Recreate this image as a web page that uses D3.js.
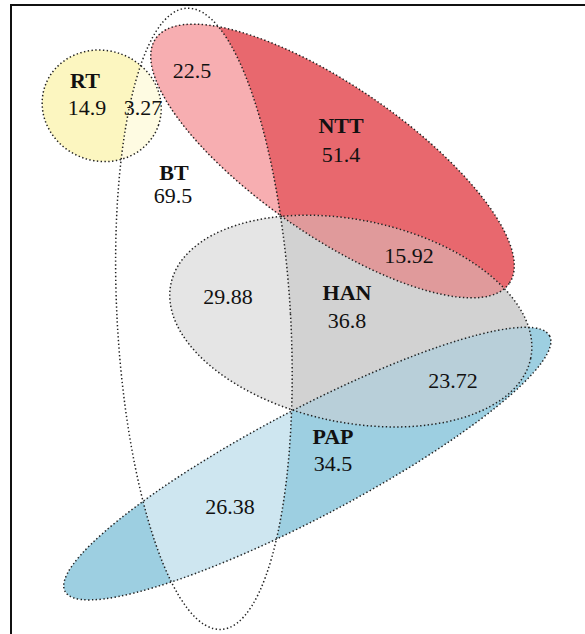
<!DOCTYPE html>
<html><head><meta charset="utf-8">
<script src="https://cdn.jsdelivr.net/npm/d3@7"></script>
<style>body{margin:0;background:#fff}</style>
</head><body><svg id="chart" width="585" height="634"></svg>
<script>
// Sets and their exclusive values
const setNames = ["BT", "NTT", "HAN", "PAP", "RT"];
const setValues = [69.5, 51.4, 36.8, 34.5, 14.9];

// Pairwise overlaps and their values
const overlapNames = [["RT", "BT"], ["NTT", "BT"], ["NTT", "HAN"], ["HAN", "BT"], ["HAN", "PAP"], ["PAP", "BT"]];
const overlapValues = [3.27, 22.5, 15.92, 29.88, 23.72, 26.38];

// Fill colours for single sets and for overlaps
const setColors = ["#ffffff", "#e8686e", "#d2d2d2", "#9dcfe1", "#fcf6c0"];
const overlapColors = ["#fefbe2", "#f7aeb1", "#e09a9b", "#e5e5e5", "#b8cfd9", "#cee6f0"];

// Ellipse layout in diagram units: centre, semi-axes, rotation (degrees)
const shapes = {
  BT:  {cx: -0.961, cy: -0.012, rx: 0.867, ry: 3.111, rot: -3.2},
  NTT: {cx: 0.325,  cy: -1.590, rx: 2.150, ry: 0.745, rot: 34.7},
  HAN: {cx: 0.508,  cy: 0.011,  rx: 1.837, ry: 1.012, rot: 11.7},
  PAP: {cx: 0.073,  cy: 1.436,  rx: 2.739, ry: 0.538, rot: -27.8},
  RT:  {cx: -1.983, cy: -2.142, rx: 0.600, ry: 0.553, rot: 18.5}
};

// Label anchors in diagram units
const setLabelPos = {
  BT: [-1.26, -1.40], NTT: [0.41, -1.87], HAN: [0.47, -0.20], PAP: [0.33, 1.24], RT: [-2.15, -2.32]
};
const setValuePos = {
  BT: [-1.27, -1.17], NTT: [0.41, -1.58], HAN: [0.47, 0.08], PAP: [0.33, 1.51], RT: [-2.13, -2.05]
};
const overlapPos = [[-1.57, -2.05], [-1.08, -2.42], [1.09, -0.57], [-0.72, -0.16], [1.53, 0.68], [-0.70, 1.94]];

const W = 585, H = 634;
const x = d3.scaleLinear().domain([-3, 2.85]).range([0, W]);
const y = d3.scaleLinear().domain([-3.2, 3.14]).range([0, H]);
const k = x(1) - x(0);

const svg = d3.select("#chart");
const defs = svg.append("defs");

function ellipseAttrs(sel, s) {
  sel.attr("cx", x(s.cx)).attr("cy", y(s.cy))
     .attr("rx", s.rx * k).attr("ry", s.ry * k)
     .attr("transform", `rotate(${s.rot},${x(s.cx)},${y(s.cy)})`);
}

// clip paths, one per set
setNames.forEach(n => {
  defs.append("clipPath").attr("id", "clip-" + n)
    .append("ellipse").call(ellipseAttrs, shapes[n]);
});

// base fills (BT is white, drawn first)
const order = ["BT", "RT", "NTT", "HAN", "PAP"];
svg.append("g").selectAll("ellipse").data(order).join("ellipse")
  .each(function(n) { d3.select(this).call(ellipseAttrs, shapes[n]); })
  .attr("fill", n => setColors[setNames.indexOf(n)]);

// overlap fills: each overlap is one set's ellipse clipped by the other set
svg.append("g").selectAll("g").data(overlapNames).join("g")
  .attr("clip-path", p => `url(#clip-${p[1]})`)
  .append("ellipse")
  .each(function(p) { d3.select(this).call(ellipseAttrs, shapes[p[0]]); })
  .attr("fill", p => overlapColors[overlapNames.indexOf(p)]);

// dotted outlines
svg.append("g").selectAll("ellipse").data(order).join("ellipse")
  .each(function(n) { d3.select(this).call(ellipseAttrs, shapes[n]); })
  .attr("fill", "none")
  .attr("stroke", "#222")
  .attr("stroke-width", 1.5)
  .attr("stroke-dasharray", "1.4 2.4");

// labels
const labels = svg.append("g")
  .style("font-family", "'Liberation Serif', 'Times New Roman', Times, serif")
  .attr("font-size", 22)
  .attr("text-anchor", "middle").attr("fill", "#111");

labels.selectAll("text.name").data(setNames).join("text")
  .attr("class", "name").attr("font-weight", "bold")
  .attr("x", n => x(setLabelPos[n][0])).attr("y", n => y(setLabelPos[n][1]))
  .text(n => n);

labels.selectAll("text.value").data(setNames).join("text")
  .attr("class", "value")
  .attr("x", n => x(setValuePos[n][0])).attr("y", n => y(setValuePos[n][1]))
  .text((n, i) => String(setValues[i]));

labels.selectAll("text.overlap").data(overlapValues).join("text")
  .attr("class", "overlap")
  .attr("x", (v, i) => x(overlapPos[i][0])).attr("y", (v, i) => y(overlapPos[i][1]))
  .text(v => String(v));

// panel frame (top and left edges)
svg.append("path")
  .attr("d", `M${W},5 H11 V${H}`)
  .attr("fill", "none").attr("stroke", "#111").attr("stroke-width", 2);
</script></body></html>
